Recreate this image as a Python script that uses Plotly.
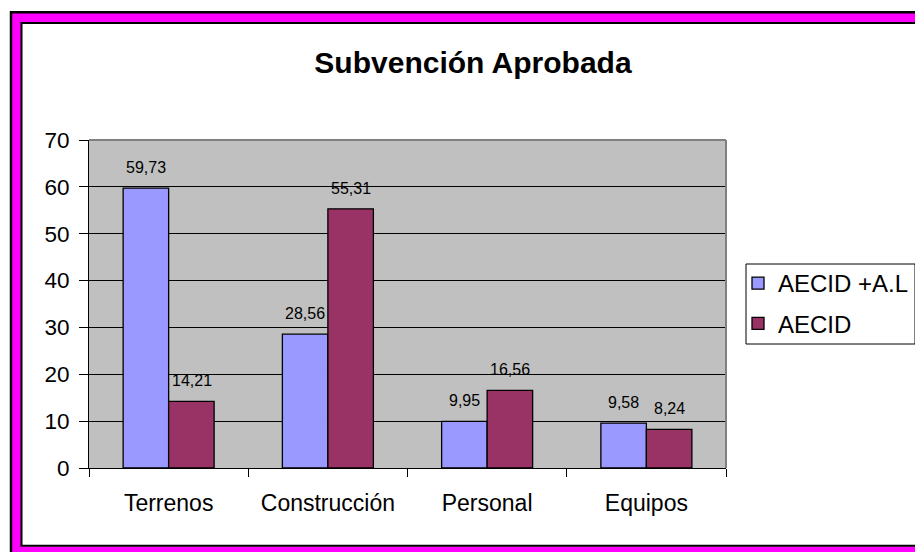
import plotly.graph_objects as go

categories = ["Terrenos", "Construcción", "Personal", "Equipos"]
series_names = ["AECID +A.L", "AECID"]
aecid_al = [59.73, 28.56, 9.95, 9.58]
aecid = [14.21, 55.31, 16.56, 8.24]
series_values = [aecid_al, aecid]
colors = ["#9999FF", "#993366"]
y_ticks = [0, 10, 20, 30, 40, 50, 60, 70]

OFF = 8  # page body margin
W, H = 923 - OFF, 552 - OFF
# plot area in reference-image pixels
L_ref, R_ref, T_ref, B_ref = 89, 726, 140, 468
L, R, T, B = L_ref - OFF, R_ref - OFF, T_ref - OFF, B_ref - OFF


def px(x):
    return (x - L_ref) / (R_ref - L_ref)


def py(y):
    return (B_ref - y) / (B_ref - T_ref)


FONT = "Liberation Sans, Arial"

fig = go.Figure()
for name, vals, col in zip(series_names, series_values, colors):
    fig.add_trace(go.Bar(
        x=categories, y=vals, name=name, legendgroup=name,
        marker=dict(color=col, line=dict(color="black", width=1.3)),
    ))

# data labels
annots = []
for i, vals in enumerate(series_values):
    shift = -23 if i == 0 else 23
    for c, v in zip(categories, vals):
        annots.append(dict(
            x=c, y=v, xref="x", yref="y", text=f"{v:.2f}".replace(".", ","),
            showarrow=False, xshift=shift, yshift=10, yanchor="bottom",
            font=dict(size=16, color="black", family=FONT),
        ))

shapes = [
    # magenta band
    dict(type="rect", xref="paper", yref="paper",
         x0=px(16.5), x1=px(927), y0=py(17.5), y1=py(551), layer="below",
         line=dict(color="#FF00FF", width=9), fillcolor="rgba(0,0,0,0)"),
    # outer black line
    dict(type="rect", xref="paper", yref="paper",
         x0=px(11), x1=px(935), y0=py(12.2), y1=py(560), layer="below",
         line=dict(color="black", width=2.5), fillcolor="rgba(0,0,0,0)"),
    # inner black line
    dict(type="rect", xref="paper", yref="paper",
         x0=px(21.5), x1=px(922), y0=py(23), y1=py(545.8), layer="below",
         line=dict(color="black", width=2), fillcolor="rgba(0,0,0,0)"),
    # plot area border (top & right, gray)
    dict(type="line", xref="paper", yref="paper", x0=0, x1=1, y0=1, y1=1,
         line=dict(color="#808080", width=2), layer="above"),
    dict(type="line", xref="paper", yref="paper", x0=1, x1=1, y0=0, y1=1,
         line=dict(color="#808080", width=2), layer="above"),
    # legend box
    dict(type="rect", xref="paper", yref="paper",
         x0=px(746), x1=px(915), y0=py(264), y1=py(344), layer="below",
         line=dict(color="black", width=1), fillcolor="white"),
]

fig.update_layout(
    width=W, height=H,
    margin=dict(l=L, r=W - R, t=T, b=H - B, pad=0, autoexpand=False),
    paper_bgcolor="white", plot_bgcolor="#C0C0C0",
    font=dict(family=FONT, color="black", size=22),
    title=dict(text="<b>Subvención Aprobada</b>", x=(473 - OFF) / W, xref="container",
               xanchor="center", y=1 - (62 - OFF) / H, yref="container", yanchor="middle",
               font=dict(size=30, color="black", family=FONT)),
    barmode="group", bargap=1.5 / 3.5, bargroupgap=0,
    showlegend=True,
    legend=dict(x=px(738), y=py(261), xanchor="left", yanchor="top",
                xref="paper", yref="paper",
                borderwidth=0, bgcolor="rgba(0,0,0,0)",
                font=dict(size=24, color="black", family=FONT),
                traceorder="grouped", tracegroupgap=6),
    annotations=annots, shapes=shapes,
)
fig.update_xaxes(showline=True, linecolor="black", linewidth=1,
                 ticks="outside", tickson="boundaries", ticklen=8,
                 tickcolor="black", ticklabelstandoff=14,
                 showgrid=False, zeroline=False,
                 tickfont=dict(size=23, color="black", family=FONT))
fig.update_yaxes(range=[0, 70], tickvals=y_ticks, showline=True,
                 linecolor="black", linewidth=1, ticks="outside", ticklen=9,
                 tickcolor="black", showgrid=True, gridcolor="#000000",
                 gridwidth=1, zeroline=False, ticklabelstandoff=5,
                 tickfont=dict(size=22.5, color="black", family=FONT))

fig.write_html("out.html")
